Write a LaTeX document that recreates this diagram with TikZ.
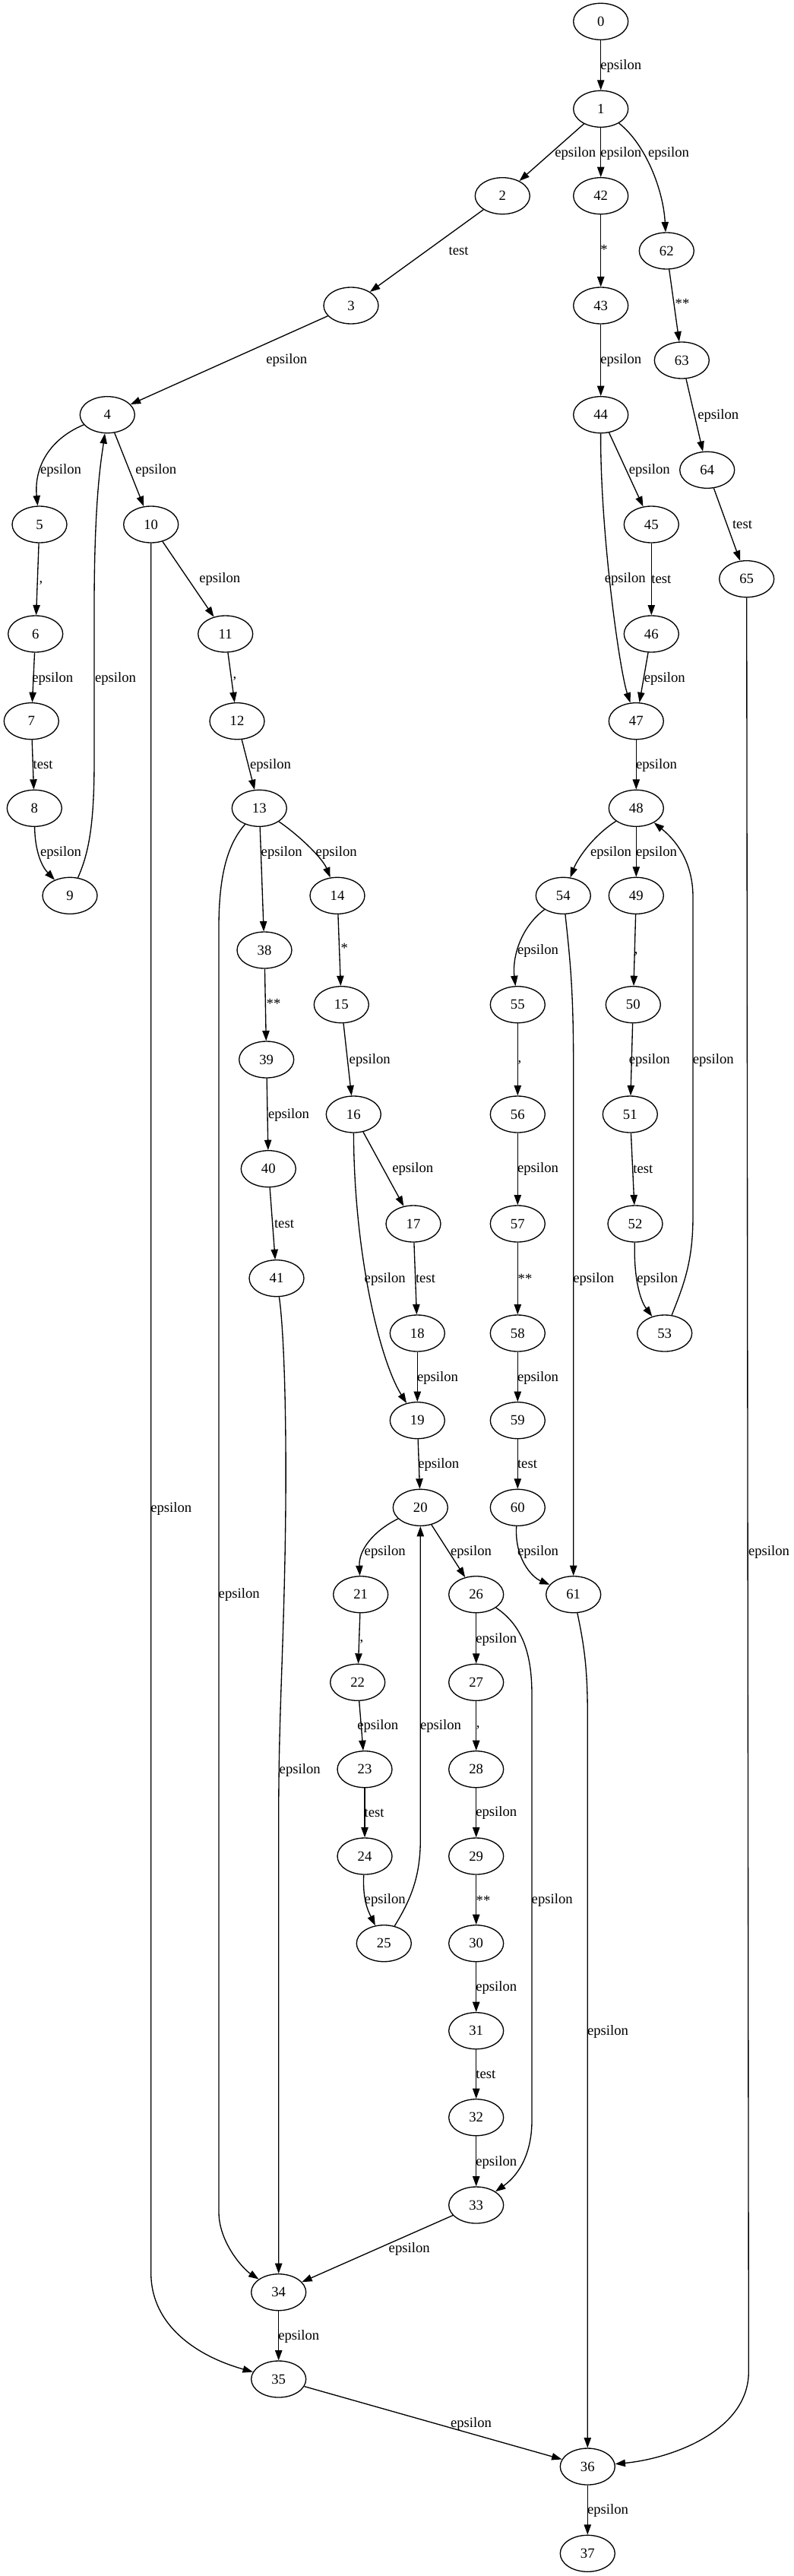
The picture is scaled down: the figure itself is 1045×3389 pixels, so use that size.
\documentclass[tikz,border=0pt]{standalone}
\usepackage{fontspec}
\setmainfont{Liberation Serif}
\usetikzlibrary{arrows.meta, shapes.geometric}

\begin{document}
\begin{tikzpicture}[
  x=0.75pt, y=-0.75pt,
  st/.style={draw, ellipse, minimum width=54pt, minimum height=36pt,
             inner sep=0pt, line width=1pt},
  lbl/.style={inner sep=0pt},
  arr/.style={-{Triangle[length=10pt, width=7pt]}, line width=1pt},
  every node/.style={font=\fontsize{14}{16}\selectfont}
]
  \useasboundingbox (0,0) rectangle (1045,3389);

  % States
  \node[st] (n0)  at (790.7,28.3)   {0};
  \node[st] (n1)  at (790.7,143.3)  {1};
  \node[st] (n2)  at (661.3,257.7)  {2};
  \node[st] (n42) at (790.7,257.7)  {42};
  \node[st] (n62) at (877.3,330)    {62};
  \node[st] (n3)  at (462,402)      {3};
  \node[st] (n43) at (790.7,402)    {43};
  \node[st] (n63) at (897.3,474)    {63};
  \node[st] (n4)  at (141.3,545.7)  {4};
  \node[st] (n44) at (790.7,545.7)  {44};
  \node[st] (n64) at (930.7,618.3)  {64};
  \node[st] (n5)  at (52,690)       {5};
  \node[st] (n10) at (198.7,690)    {10};
  \node[st] (n45) at (857.3,690)    {45};
  \node[st] (n65) at (982.7,761.7)  {65};
  \node[st] (n6)  at (46.7,834)     {6};
  \node[st] (n11) at (296.7,834)    {11};
  \node[st] (n46) at (857.3,834)    {46};
  \node[st] (n7)  at (41.3,948.7)   {7};
  \node[st] (n12) at (312,948.7)    {12};
  \node[st] (n47) at (837.3,948.7)  {47};
  \node[st] (n8)  at (45.3,1063.3)  {8};
  \node[st] (n13) at (341.3,1063.3) {13};
  \node[st] (n48) at (837.3,1063.3) {48};
  \node[st] (n9)  at (92,1178.3)    {9};
  \node[st] (n14) at (444,1178.3)   {14};
  \node[st] (n54) at (741.3,1178.3) {54};
  \node[st] (n49) at (837.3,1178.3) {49};
  \node[st] (n38) at (348,1250)     {38};
  \node[st] (n15) at (449.3,1321.7) {15};
  \node[st] (n55) at (681.3,1321.7) {55};
  \node[st] (n50) at (833.3,1321.7) {50};
  \node[st] (n39) at (350.7,1394)   {39};
  \node[st] (n16) at (465.3,1466)   {16};
  \node[st] (n56) at (681.3,1466)   {56};
  \node[st] (n51) at (829.3,1466)   {51};
  \node[st] (n40) at (353.3,1537.7) {40};
  \node[st] (n17) at (544,1610)     {17};
  \node[st] (n57) at (681.3,1610)   {57};
  \node[st] (n52) at (836,1610)     {52};
  \node[st] (n41) at (364,1681.7)   {41};
  \node[st] (n18) at (549.3,1754)   {18};
  \node[st] (n58) at (681.3,1754)   {58};
  \node[st] (n53) at (874.7,1754)   {53};
  \node[st] (n19) at (549.3,1868.7) {19};
  \node[st] (n59) at (681.3,1868.7) {59};
  \node[st] (n20) at (553.3,1983.3) {20};
  \node[st] (n60) at (681.3,1983.3) {60};
  \node[st] (n21) at (474.7,2097.7) {21};
  \node[st] (n26) at (626.7,2097.7) {26};
  \node[st] (n61) at (754.7,2097.7) {61};
  \node[st] (n22) at (470.7,2213.3) {22};
  \node[st] (n27) at (626.7,2213.3) {27};
  \node[st] (n23) at (480,2327.7)   {23};
  \node[st] (n28) at (626.7,2327.7) {28};
  \node[st] (n24) at (480,2442)     {24};
  \node[st] (n29) at (626.7,2442)   {29};
  \node[st] (n25) at (505.3,2556.7) {25};
  \node[st] (n30) at (626.7,2556.7) {30};
  \node[st] (n31) at (626.7,2671.7) {31};
  \node[st] (n32) at (626.7,2785.7) {32};
  \node[st] (n33) at (626.7,2901)   {33};
  \node[st] (n34) at (366.7,3015.7) {34};
  \node[st] (n35) at (366.7,3130)   {35};
  \node[st] (n36) at (773.3,3245)   {36};
  \node[st] (n37) at (773.3,3359.3) {37};

  % Top
  \draw[arr] (n0) -- (n1);
  \node[lbl] (e0-1) at (817.3,86.7) {epsilon};
  \draw[arr] (n1) -- (n2);
  \node[lbl] (e1-2) at (757.3,201.7) {epsilon};
  \draw[arr] (n1) -- (n42);
  \node[lbl] (e1-42) at (817.3,201.7) {epsilon};
  \draw[arr] (n1) .. controls (850,190) and (873,250) .. (n62);
  \node[lbl] (e1-62) at (880,201.7) {epsilon};
  \draw[arr] (n2) -- (n3);
  \node[lbl] (e2-3) at (603.7,330.7) {test};
  \draw[arr] (n3) -- (n4);
  \node[lbl] (e3-4) at (377.3,474.3) {epsilon};

  % Branch 4 .. 9
  \draw[arr] (n4) .. controls (60,580) and (45,620) .. (n5);
  \node[lbl] (e4-5) at (80,618.7) {epsilon};
  \draw[arr] (n5) -- (n6);
  \node[lbl] (e5-6) at (54,766.7) {,};
  \draw[arr] (n6) -- (n7);
  \node[lbl] (e6-7) at (69.3,892.7) {epsilon};
  \draw[arr] (n7) -- (n8);
  \node[lbl] (e7-8) at (56.7,1006.7) {test};
  \draw[arr] (n8) .. controls (46,1120) and (55,1140) .. (n9);
  \node[lbl] (e8-9) at (80,1121.7) {epsilon};
  \draw[arr] (n9) .. controls (118,1120) and (124,1080) .. (124,1000)
    -- (124,800) .. controls (124,650) and (134,600) .. (n4);
  \node[lbl] (e9-4) at (152,892.7) {epsilon};

  % Branch 10 .. 41
  \draw[arr] (n4) -- (n10);
  \node[lbl] (e4-10) at (205.3,618.7) {epsilon};
  \draw[arr] (n10) -- (n11);
  \node[lbl] (e10-11) at (289.3,762.3) {epsilon};
  \draw[arr] (n11) -- (n12);
  \node[lbl] (e11-12) at (309,893) {,};
  \draw[arr] (n12) -- (n13);
  \node[lbl] (e12-13) at (356,1006.7) {epsilon};
  \draw[arr] (n13) -- (n38);
  \node[lbl] (e13-38) at (370.7,1121.7) {epsilon};
  \draw[arr] (n13) .. controls (395,1100) and (425,1130) .. (n14);
  \node[lbl] (e13-14) at (442.7,1121.7) {epsilon};
  \draw[arr] (n38) -- (n39);
  \node[lbl] (e38-39) at (360,1320) {**};
  \draw[arr] (n39) -- (n40);
  \node[lbl] (e39-40) at (380,1466.7) {epsilon};
  \draw[arr] (n40) -- (n41);
  \node[lbl] (e40-41) at (374,1610.7) {test};
  \draw[arr] (n14) -- (n15);
  \node[lbl] (e14-15) at (453.3,1247.3) {*};
  \draw[arr] (n15) -- (n16);
  \node[lbl] (e15-16) at (486.7,1394.7) {epsilon};
  \draw[arr] (n16) -- (n17);
  \node[lbl] (e16-17) at (543.3,1538.3) {epsilon};
  \draw[arr] (n16) .. controls (466,1650) and (500,1790) .. (n19);
  \node[lbl] (e16-19) at (506.7,1682.7) {epsilon};
  \draw[arr] (n17) -- (n18);
  \node[lbl] (e17-18) at (560,1682.7) {test};
  \draw[arr] (n18) -- (n19);
  \node[lbl] (e18-19) at (576,1812.7) {epsilon};
  \draw[arr] (n19) -- (n20);
  \node[lbl] (e19-20) at (577.3,1926.7) {epsilon};

  % Branch 20 .. 33
  \draw[arr] (n20) .. controls (490,2015) and (472,2040) .. (n21);
  \node[lbl] (e20-21) at (506.7,2041.7) {epsilon};
  \draw[arr] (n20) -- (n26);
  \node[lbl] (e20-26) at (620,2041.7) {epsilon};
  \draw[arr] (n21) -- (n22);
  \node[lbl] (e21-22) at (476,2160) {,};
  \draw[arr] (n22) -- (n23);
  \node[lbl] (e22-23) at (497.3,2270.7) {epsilon};
  \draw[arr] (n23) -- (n24);
  \node[lbl] (e23-24) at (492.7,2385.3) {test};
  \draw[arr] (n24) .. controls (477,2500) and (485,2515) .. (n25);
  \node[lbl] (e24-25) at (506.7,2500) {epsilon};
  \draw[arr] (n25) .. controls (540,2500) and (553.3,2470) .. (553.3,2420) -- (n20);
  \node[lbl] (e25-20) at (580,2270.7) {epsilon};
  \draw[arr] (n26) -- (n27);
  \node[lbl] (e26-27) at (653.3,2156.7) {epsilon};
  \draw[arr] (n27) -- (n28);
  \node[lbl] (e27-28) at (629.3,2273) {,};
  \draw[arr] (n28) -- (n29);
  \node[lbl] (e28-29) at (653.3,2385.3) {epsilon};
  \draw[arr] (n29) -- (n30);
  \node[lbl] (e29-30) at (636,2500) {**};
  \draw[arr] (n30) -- (n31);
  \node[lbl] (e30-31) at (653.3,2615) {epsilon};
  \draw[arr] (n31) -- (n32);
  \node[lbl] (e31-32) at (639.3,2729.3) {test};
  \draw[arr] (n32) -- (n33);
  \node[lbl] (e32-33) at (653.3,2845) {epsilon};
  \draw[arr] (n26) .. controls (690,2140) and (700,2180) .. (700,2230)
    -- (700,2790) .. controls (700,2830) and (685,2860) .. (n33);
  \node[lbl] (e26-33) at (726.7,2500) {epsilon};

  % Joins 34 .. 37
  \draw[arr] (n13) .. controls (300,1110) and (288,1150) .. (288,1220)
    -- (288,2910) .. controls (288,2950) and (320,2985) .. (n34);
  \node[lbl] (e13-34) at (314.7,2098.3) {epsilon};
  \draw[arr] (n41) .. controls (375,1760) and (378,1900) .. (375,2050)
    .. controls (372,2200) and (366.7,2260) .. (366.7,2400) -- (n34);
  \node[lbl] (e41-34) at (394.7,2328.7) {epsilon};
  \draw[arr] (n33) -- (n34);
  \node[lbl] (e33-34) at (538.7,2959) {epsilon};
  \draw[arr] (n34) -- (n35);
  \node[lbl] (e34-35) at (393.3,3074) {epsilon};
  \draw[arr] (n10) -- (198.7,2990) .. controls (198.7,3060) and (260,3100) .. (n35);
  \node[lbl] (e10-35) at (225.3,1985) {epsilon};
  \draw[arr] (n35) -- (n36);
  \node[lbl] (e35-36) at (620,3188.7) {epsilon};
  \draw[arr] (n36) -- (n37);
  \node[lbl] (e36-37) at (800,3302.7) {epsilon};

  % Branch 42 .. 61
  \draw[arr] (n42) -- (n43);
  \node[lbl] (e42-43) at (795,328) {*};
  \draw[arr] (n43) -- (n44);
  \node[lbl] (e43-44) at (817.3,474.3) {epsilon};
  \draw[arr] (n44) -- (n45);
  \node[lbl] (e44-45) at (854.7,618.7) {epsilon};
  \draw[arr] (n44) .. controls (790,700) and (815,880) .. (n47);
  \node[lbl] (e44-47) at (822.7,762.3) {epsilon};
  \draw[arr] (n45) -- (n46);
  \node[lbl] (e45-46) at (870.3,762.3) {test};
  \draw[arr] (n46) -- (n47);
  \node[lbl] (e46-47) at (874.7,892.7) {epsilon};
  \draw[arr] (n47) -- (n48);
  \node[lbl] (e47-48) at (864,1006.7) {epsilon};
  \draw[arr] (n48) .. controls (780,1100) and (760,1130) .. (n54);
  \node[lbl] (e48-54) at (804,1121.7) {epsilon};
  \draw[arr] (n48) -- (n49);
  \node[lbl] (e48-49) at (864,1121.7) {epsilon};
  \draw[arr] (n49) -- (n50);
  \node[lbl] (e49-50) at (837.3,1255) {,};
  \draw[arr] (n50) -- (n51);
  \node[lbl] (e50-51) at (854.7,1394.7) {epsilon};
  \draw[arr] (n51) -- (n52);
  \node[lbl] (e51-52) at (846.3,1538.3) {test};
  \draw[arr] (n52) .. controls (834,1680) and (842,1710) .. (n53);
  \node[lbl] (e52-53) at (865.3,1682.7) {epsilon};
  \draw[arr] (n53) .. controls (900,1690) and (912,1660) .. (912,1600)
    -- (912,1180) .. controls (912,1140) and (895,1110) .. (n48);
  \node[lbl] (e53-48) at (938.7,1394.7) {epsilon};
  \draw[arr] (n54) .. controls (685,1220) and (674,1260) .. (n55);
  \node[lbl] (e54-55) at (708,1250.7) {epsilon};
  \draw[arr] (n55) -- (n56);
  \node[lbl] (e55-56) at (684,1398) {,};
  \draw[arr] (n56) -- (n57);
  \node[lbl] (e56-57) at (708,1538.3) {epsilon};
  \draw[arr] (n57) -- (n58);
  \node[lbl] (e57-58) at (691,1682.7) {**};
  \draw[arr] (n58) -- (n59);
  \node[lbl] (e58-59) at (708,1812.7) {epsilon};
  \draw[arr] (n59) -- (n60);
  \node[lbl] (e59-60) at (694,1926.7) {test};
  \draw[arr] (n60) .. controls (677,2050) and (700,2075) .. (n61);
  \node[lbl] (e60-61) at (708,2041.7) {epsilon};
  \draw[arr] (n54) .. controls (750,1260) and (754.7,1300) .. (754.7,1400) -- (n61);
  \node[lbl] (e54-61) at (781.3,1682.7) {epsilon};
  \draw[arr] (n61) .. controls (770,2170) and (773.3,2200) .. (773.3,2260) -- (n36);
  \node[lbl] (e61-36) at (800,2672.7) {epsilon};

  % Branch 62 .. 65
  \draw[arr] (n62) -- (n63);
  \node[lbl] (e62-63) at (898,399.3) {**};
  \draw[arr] (n63) -- (n64);
  \node[lbl] (e63-64) at (945.3,546.7) {epsilon};
  \draw[arr] (n64) -- (n65);
  \node[lbl] (e64-65) at (977,690) {test};
  \draw[arr] (n65) -- (985.3,3120) .. controls (985.3,3200) and (880,3235) .. (n36);
  \node[lbl] (e65-36) at (1012,2041.7) {epsilon};
\end{tikzpicture}
\end{document}
